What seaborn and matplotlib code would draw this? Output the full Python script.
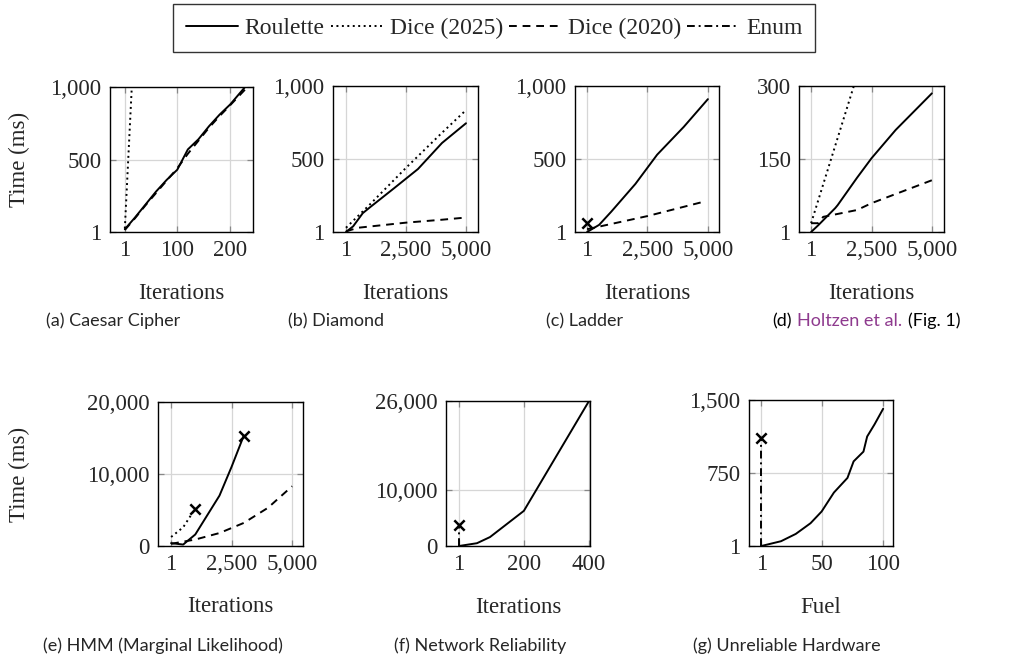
import seaborn as sns
import matplotlib.pyplot as plt
from matplotlib.lines import Line2D
from matplotlib.ticker import FuncFormatter
from matplotlib.offsetbox import TextArea, HPacker, AnnotationBbox

# (a) Caesar Cipher
caesar_x = [1, 20, 40, 60, 80, 100, 120, 140, 160, 180, 200, 228]
caesar_roulette = [20, 100, 190, 280, 360, 430, 570, 640, 730, 810, 880, 1000]
caesar_dice20_x = [1, 20, 40, 60, 80, 100, 120, 140, 160, 180, 200, 230]
caesar_dice20 = [15, 95, 185, 270, 355, 440, 540, 630, 720, 800, 875, 990]
caesar_dice25_x = [1, 14]
caesar_dice25 = [25, 990]

# (b) Diamond
diamond_x = [1, 300, 700, 1000, 2000, 3000, 4000, 5000]
diamond_roulette = [1, 40, 130, 170, 300, 432, 610, 745]
diamond_dice25_x = [1, 1000, 2500, 4000, 5000]
diamond_dice25 = [30, 190, 440, 680, 835]
diamond_dice20_x = [1, 500, 2500, 4000, 5000]
diamond_dice20 = [5, 30, 65, 85, 100]

# (c) Ladder
ladder_x = [1, 500, 1000, 2000, 2900, 4000, 5000]
ladder_roulette = [1, 50, 140, 330, 530, 720, 910]
ladder_dice20_x = [1, 2500, 4750]
ladder_dice20 = [20, 110, 205]
ladder_enum_x = [1]
ladder_enum = [60]

# (d) Holtzen et al. (Fig. 1)
holtzen_x = [1, 300, 1000, 1100, 1900, 2500, 3500, 5000]
holtzen_roulette = [1, 15, 50, 56, 112, 152, 210, 285]
holtzen_dice25_x = [1, 1800]
holtzen_dice25 = [19, 305]
holtzen_dice20_x = [1, 300, 500, 1900, 2500, 5000]
holtzen_dice20 = [19, 19, 32, 46, 60, 107]

# (e) HMM (Marginal Likelihood)
hmm_x = [1, 500, 1000, 2000, 2500, 3000]
hmm_roulette = [400, 200, 1600, 7000, 11000, 15300]
hmm_dice25_x = [1, 500, 1000]
hmm_dice25 = [1250, 2600, 5200]
hmm_dice20_x = [1, 1000, 2000, 3000, 4000, 5000]
hmm_dice20 = [300, 900, 1800, 3200, 5300, 8300]

# (f) Network Reliability
network_x = [1, 56, 96, 200, 400]
network_roulette = [0, 500, 1600, 6300, 26000]
network_enum_x = [1, 1]
network_enum = [0, 3800]

# (g) Unreliable Hardware
hardware_x = [1, 17, 29, 41, 50, 60, 71, 76, 84, 87, 93, 100]
hardware_roulette = [1, 50, 125, 235, 355, 550, 700, 870, 970, 1125, 1250, 1410]
hardware_enum_x = [1, 1]
hardware_enum = [1, 1110]

series_names = ["Roulette", "Dice (2025)", "Dice (2020)", "Enum"]
styles = {
    "Roulette": "-",
    "Dice (2025)": (0, (1, 1.8)),
    "Dice (2020)": (0, (4, 3)),
    "Enum": (0, (4, 2, 1, 2)),
}

sns.set_theme(style="ticks")
plt.rcParams["font.family"] = ["Liberation Serif", "DejaVu Serif"]
FS = 16.5
W, H = 1016, 669

fig = plt.figure(figsize=(W / 100, H / 100), dpi=100)


def make_ax(left, top, right, bottom):
    return fig.add_axes([left / W, 1 - bottom / H, (right - left) / W, (bottom - top) / H])


def draw(ax, x, y, name, timeout=False):
    sns.lineplot(x=x, y=y, ax=ax, color="black", linewidth=1.4,
                 linestyle=styles[name], estimator=None, sort=False)
    if timeout:
        sns.scatterplot(x=[x[-1]], y=[y[-1]], ax=ax, marker="x", color="black",
                        s=55, linewidth=1.8, zorder=5)


def style_ax(ax, xlim, xticks, ylim, yticks):
    ax.set_xlim(*xlim)
    ax.set_ylim(*ylim)
    ax.set_xticks(xticks)
    ax.set_yticks(yticks)
    fmt = FuncFormatter(lambda v, p: f"{v:,.0f}")
    ax.xaxis.set_major_formatter(fmt)
    ax.yaxis.set_major_formatter(fmt)
    ax.grid(True, color="#d6d6d6", linewidth=0.9)
    ax.set_axisbelow(True)
    ax.tick_params(direction="in", length=4, width=0.9, color="#888888",
                   top=True, right=True, labelsize=FS, pad=6)
    for s in ax.spines.values():
        s.set_color("black")
        s.set_linewidth(1.0)
    ax.set_xlabel("")
    ax.set_ylabel("")


panels = []

ax = make_ax(110, 87, 253, 232)
draw(ax, caesar_x, caesar_roulette, "Roulette")
draw(ax, caesar_dice25_x, caesar_dice25, "Dice (2025)")
draw(ax, caesar_dice20_x, caesar_dice20, "Dice (2020)")
style_ax(ax, (-27, 243), [1, 100, 200], (1, 1000), [1, 500, 1000])
panels.append(ax)

ax = make_ax(333, 86, 478, 232)
draw(ax, diamond_x, diamond_roulette, "Roulette")
draw(ax, diamond_dice25_x, diamond_dice25, "Dice (2025)")
draw(ax, diamond_dice20_x, diamond_dice20, "Dice (2020)")
style_ax(ax, (-540, 5500), [1, 2500, 5000], (1, 1000), [1, 500, 1000])
panels.append(ax)

ax = make_ax(575, 86, 719, 232)
draw(ax, ladder_x, ladder_roulette, "Roulette")
draw(ax, ladder_dice20_x, ladder_dice20, "Dice (2020)")
draw(ax, ladder_enum_x, ladder_enum, "Enum", timeout=True)
style_ax(ax, (-500, 5460), [1, 2500, 5000], (1, 1000), [1, 500, 1000])
panels.append(ax)

ax = make_ax(799, 86, 944, 232)
draw(ax, holtzen_x, holtzen_roulette, "Roulette")
draw(ax, holtzen_dice25_x, holtzen_dice25, "Dice (2025)")
draw(ax, holtzen_dice20_x, holtzen_dice20, "Dice (2020)")
style_ax(ax, (-500, 5500), [1, 2500, 5000], (1, 300), [1, 150, 300])
panels.append(ax)

ax = make_ax(158, 402, 303, 546)
draw(ax, hmm_x, hmm_roulette, "Roulette", timeout=True)
draw(ax, hmm_dice25_x, hmm_dice25, "Dice (2025)", timeout=True)
draw(ax, hmm_dice20_x, hmm_dice20, "Dice (2020)")
style_ax(ax, (-540, 5450), [1, 2500, 5000], (0, 20000), [0, 10000, 20000])
panels.append(ax)

ax = make_ax(446, 401, 590, 546)
draw(ax, network_x, network_roulette, "Roulette")
draw(ax, network_enum_x, network_enum, "Enum", timeout=True)
style_ax(ax, (-39, 403), [1, 200, 400], (0, 26000), [0, 10000, 26000])
panels.append(ax)

ax = make_ax(749, 400, 893, 546)
draw(ax, hardware_x, hardware_roulette, "Roulette")
draw(ax, hardware_enum_x, hardware_enum, "Enum", timeout=True)
style_ax(ax, (-9, 108), [1, 50, 100], (1, 1500), [1, 750, 1500])
panels.append(ax)

xlabels = ["Iterations"] * 6 + ["Fuel"]
for ax, lab in zip(panels, xlabels):
    ax.set_xlabel(lab, fontsize=FS)
    ax.xaxis.set_label_coords(0.5, -0.35)

panels[0].set_ylabel("Time (ms)", fontsize=FS)
panels[0].yaxis.set_label_coords(-0.56, 0.5)
panels[4].set_ylabel("Time (ms)", fontsize=FS)
panels[4].yaxis.set_label_coords(-0.88, 0.5)

# legend
handles = [Line2D([], [], color="black", linewidth=1.4, linestyle=styles[n]) for n in series_names]
leg = fig.legend(handles, series_names, loc="center", bbox_to_anchor=(494 / W, 1 - 28 / H),
                 ncol=4, fontsize=17, frameon=True, fancybox=False, edgecolor="black",
                 handlelength=2.2, handletextpad=0.3, columnspacing=0.25, borderpad=0.55)
leg.get_frame().set_linewidth(1.0)

# captions
CAP = dict(fontsize=13, family=["Lato", "DejaVu Sans"])
captions = [
    ("(a) Caesar Cipher", 113, 321),
    ("(b) Diamond", 336, 321),
    ("(c) Ladder", 585, 321),
    ("(e) HMM (Marginal Likelihood)", 163, 646),
    ("(f) Network Reliability", 480, 646),
    ("(g) Unreliable Hardware", 787, 646),
]
for txt, cx, cy in captions:
    fig.text(cx / W, 1 - cy / H, txt, ha="center", va="center", **CAP)

parts = [TextArea("(d)", textprops=dict(color="black", **CAP)),
         TextArea("Holtzen et al.", textprops=dict(color="#8e3a8e", **CAP)),
         TextArea("(Fig. 1)", textprops=dict(color="black", **CAP))]
box = HPacker(children=parts, align="baseline", pad=0, sep=4)
fig.add_artist(AnnotationBbox(box, (866 / W, 1 - 321 / H), xycoords="figure fraction",
                              frameon=False, box_alignment=(0.5, 0.5)))

fig.savefig("out.png", dpi=100)
